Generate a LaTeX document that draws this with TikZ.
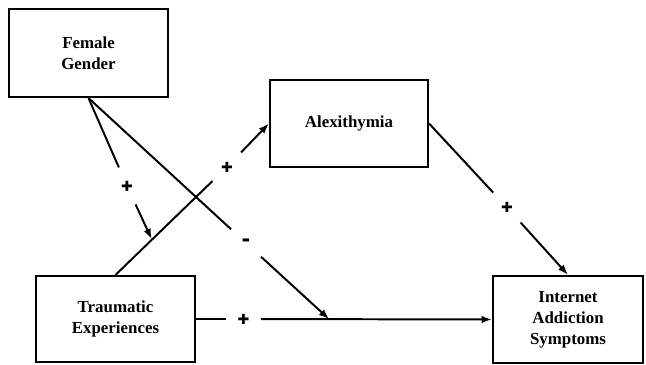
\documentclass[tikz,border=0pt]{standalone}
\usepackage{fontspec}
\setmainfont{Liberation Serif}
\newfontfamily\signfont{DejaVu Sans}
\usetikzlibrary{calc, arrows.meta}

\begin{document}
\begin{tikzpicture}[x=0.025cm, y=-0.025cm,
    box/.style={draw, line width=1.5pt, align=center,
        font=\fontsize{12}{15}\selectfont\bfseries, inner sep=2pt},
    sign/.style={circle, inner sep=0pt, minimum size=1cm,
        font=\signfont\fontsize{10}{10}\selectfont\bfseries},
    link/.style={line width=1.4pt},
    arr/.style={-{Latex[length=0.26cm, width=0.19cm]}}]

\useasboundingbox (0,0) rectangle (646,365);

% the four boxes
\node[box, minimum width=3.975cm, minimum height=2.2cm] (fem) at (88.5,53)
    {Female\\Gender};
\node[box, minimum width=3.95cm, minimum height=2.175cm] (alx) at (349,123.5)
    {Alexithymia};
\node[box, minimum width=3.975cm, minimum height=2.15cm] (trau) at (115.5,319)
    {Traumatic\\Experiences};
\node[box, minimum width=3.75cm, minimum height=2.175cm] (ias) at (568,319.5)
    {Internet\\Addiction\\Symptoms};

% points where the moderating arrows land
\coordinate (m1) at ($(trau.north)!0.236!(alx.west)$);
\coordinate (m2) at ($(trau.east)!0.45!(ias.west)$);

% signs in the gaps
\node[sign] (s1) at (127,186) {✚};
\node[sign, font=\signfont\fontsize{15}{15}\selectfont\bfseries] (s2) at (246,243) {-};
\node[sign] (s3) at (227,167) {✚};
\node[sign, minimum size=0.85cm] (s4) at (243.5,319) {✚};
\node[sign] (s5) at (507,207.5) {✚};

\draw[link] (fem.south) -- (s1);
\draw[link, arr] (s1) -- (m1);

\draw[link] (fem.south) -- (s2);
\draw[link, arr] (s2) -- (m2);

\draw[link] (trau.north) -- (s3);
\draw[link, arr] (s3) -- (alx.west);

\draw[link] (trau.east) -- (s4);
\draw[link, arr] (s4) -- (ias.west);

\draw[link] (alx.east) -- (s5);
\draw[link, arr] (s5) -- (ias.north);

\end{tikzpicture}
\end{document}
